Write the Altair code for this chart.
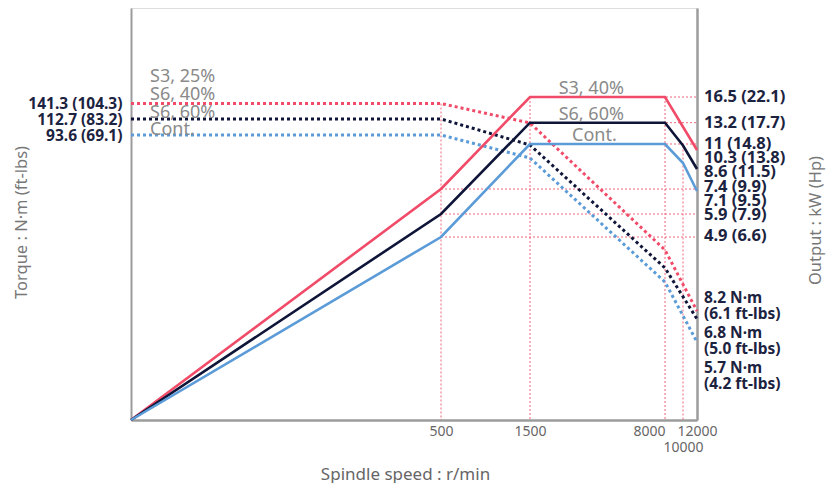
import altair as alt
import pandas as pd

# ---------------- data ----------------
speed_breaks = [0, 500, 1500, 8000, 10000, 12000]      # r/min break points of the schematic x-axis
speed_ticks = [500, 1500, 8000, 10000, 12000]

# Output (kW) - solid lines
s3_rpm = [0, 500, 1500, 8000, 12000]
s3_kw = [0, 7.4, 16.5, 16.5, 10.3]
s6_rpm = [0, 500, 1500, 8000, 10000, 12000]
s6_kw = [0, 5.9, 13.2, 13.2, 10.9, 8.6]
cont_rpm = [0, 500, 1500, 8000, 10000, 12000]
cont_kw = [0, 4.9, 11.0, 11.0, 9.2, 7.1]

# Torque (N·m) - dotted lines
tq_rpm = [0, 500, 1500, 8000, 12000]
s3_nm = [141.3, 141.3, 105.0, 19.7, 8.2]
s6_nm = [112.7, 112.7, 84.0, 15.8, 6.8]
cont_nm = [93.6, 93.6, 70.0, 13.1, 5.7]

# value labels
kw_values = [16.5, 13.2, 11, 10.3, 8.6, 7.4, 7.1, 5.9, 4.9]
kw_texts = ["16.5 (22.1)", "13.2 (17.7)", "11 (14.8)", "10.3 (13.8)", "8.6 (11.5)",
            "7.4 (9.9)", "7.1 (9.5)", "5.9 (7.9)", "4.9 (6.6)"]
nm_values = [141.3, 112.7, 93.6]
nm_texts = ["141.3 (104.3)", "112.7 (83.2)", "93.6 (69.1)"]
nm_end_values = [8.2, 6.8, 5.7]
nm_end_texts = ["8.2 N·m\n(6.1 ft-lbs)", "6.8 N·m\n(5.0 ft-lbs)", "5.7 N·m\n(4.2 ft-lbs)"]

# reference grid lines
grid_v_rpm = [1500, 8000, 10000]
grid_v_kw = [16.5, 16.5, 10.9]
grid_h_kw = [16.5, 13.2, 11, 7.4, 5.9, 4.9]
grid_h_from = [1500, 1500, 1500, 500, 500, 500]

# series annotations
ann_right_texts = ["S3, 40%", "S6, 60%", "Cont."]
ann_right_kw = [16.5, 13.2, 11]
ann_right_rpm = [4450, 4450, 4600]
ann_left_texts = ["S3, 25%", "S6, 40%", "S6, 60%", "Cont."]
ann_left_nm = [141.3, 141.3, 112.7, 93.6]

# ---------------- schematic scales ----------------
W, H = 566, 412
x_px = [0, 310, 399, 534, 552, 566]
kw_dom = [0, 4.9, 5.9, 7.1, 7.4, 8.6, 9.2, 10.3, 10.9, 11, 13.2, 16.5, 20]
kw_px = [412, 229, 206, 183, 181, 161, 155, 142, 137.5, 136, 114.7, 89, 0]
nm_dom = [0, 5.7, 6.8, 8.2, 13.1, 15.8, 19.7, 70, 84, 93.6, 105, 112.7, 141.3, 200]
nm_px = [412, 334, 311, 303, 274, 260, 242, 150, 137, 127, 115, 111, 95.5, 0]

RED, NAVY, BLUE = "#f04b68", "#0e1538", "#5b9bd8"
LABEL = "#1c2340"
GREY_AX = "#9c9c9c"
ANN = "#8a8a8a"
FONT = "Noto Sans"

XS = alt.Scale(domain=speed_breaks, range=x_px, nice=False, zero=False)
KS = alt.Scale(domain=kw_dom, range=kw_px, nice=False, zero=False)
NS = alt.Scale(domain=nm_dom, range=nm_px, nice=False, zero=False)

XAX = alt.Axis(values=speed_ticks, format="d",
               labelExpr="datum.value == 10000 ? ['', datum.label] : datum.label",
               labelAlign={"condition": {"test": "datum.value == 8000", "value": "right"}, "value": "center"},
               labelFlush=False, labelOverlap=False, ticks=False, grid=False,
               domainColor=GREY_AX, domainWidth=2.5, labelColor="#666", labelFontSize=14,
               labelPadding=4, labelLineHeight=16, labelFont=FONT,
               title="Spindle speed : r/min", titleColor="#666", titleFontSize=17,
               titleFontWeight="normal", titleFont=FONT, titleX=274, titleY=54,
               titleBaseline="middle", titleAlign="center")


def xenc(field="rpm"):
    return alt.X(f"{field}:Q", scale=XS, axis=XAX)


left_expr = " : ".join(f"datum.value == {v} ? '{t}'" for v, t in zip(nm_values, nm_texts)) + " : ''"
LAX = alt.Axis(orient="left", values=nm_values, labelExpr=left_expr, ticks=False, grid=False,
               labelOverlap=False, labelFontWeight="bold", labelFontSize=15.5, labelColor=LABEL,
               labelFont=FONT, labelPadding=9, domainColor=GREY_AX, domainWidth=2,
               title="Torque : N·m (ft-lbs)", titleColor="#777", titleFontSize=16.5,
               titleFontWeight="normal", titleFont=FONT, titleX=-110, titleY=214,
               titleAngle=270, titleBaseline="middle", titleAlign="center")
RAX = alt.Axis(orient="right", labels=False, ticks=False, grid=False, domainColor=GREY_AX,
               domainWidth=2.5, title="Output : kW (Hp)", titleColor="#777", titleFontSize=16.5,
               titleFontWeight="normal", titleFont=FONT, titleX=118, titleY=212,
               titleAngle=270, titleBaseline="middle", titleAlign="center")

color = alt.Color("series:N", scale=alt.Scale(domain=["S3", "S6", "Cont"], range=[RED, NAVY, BLUE]),
                  legend=None)

# ---------------- tables ----------------
kw_df = pd.concat([
    pd.DataFrame({"rpm": s3_rpm, "kw": s3_kw, "series": "S3"}),
    pd.DataFrame({"rpm": s6_rpm, "kw": s6_kw, "series": "S6"}),
    pd.DataFrame({"rpm": cont_rpm, "kw": cont_kw, "series": "Cont"}),
])
nm_df = pd.concat([
    pd.DataFrame({"rpm": tq_rpm, "nm": s3_nm, "series": "S3"}),
    pd.DataFrame({"rpm": tq_rpm, "nm": s6_nm, "series": "S6"}),
    pd.DataFrame({"rpm": tq_rpm, "nm": cont_nm, "series": "Cont"}),
])
gv_df = pd.DataFrame({"rpm": grid_v_rpm, "kw": grid_v_kw, "base": 0})
gh_df = pd.DataFrame({"rpm": grid_h_from, "rpm_end": 12000, "kw": grid_h_kw})
gv_nm_df = pd.DataFrame({"rpm": [500], "nm": [nm_values[0]], "base": 0})

rule_style = dict(color=RED, strokeDash=[2, 2], strokeWidth=1, opacity=0.85)

layers = []
layers.append(alt.Chart(gv_df).mark_rule(**rule_style).encode(
    x=xenc(), y=alt.Y("kw:Q", scale=KS, axis=None), y2="base:Q"))
layers.append(alt.Chart(gh_df).mark_rule(**rule_style).encode(
    x=xenc(), x2="rpm_end:Q", y=alt.Y("kw:Q", scale=KS, axis=None)))
layers.append(alt.Chart(gv_nm_df).mark_rule(**rule_style).encode(
    x=xenc(), y=alt.Y("nm:Q", scale=NS, axis=None), y2="base:Q"))
layers.append(alt.Chart(nm_df).mark_line(strokeWidth=3, strokeDash=[3, 3]).encode(
    x=xenc(), y=alt.Y("nm:Q", scale=NS, axis=LAX), color=color, detail="series:N"))
layers.append(alt.Chart(kw_df).mark_line(strokeWidth=2.6).encode(
    x=xenc(), y=alt.Y("kw:Q", scale=KS, axis=RAX), color=color, detail="series:N"))

# right output labels (small vertical nudges to avoid overlaps, as in the original)
kw_dy = {10.3: 8, 8.6: 3, 7.4: -2, 7.1: 10, 5.9: 1, 4.9: -1}
for v, t in zip(kw_values, kw_texts):
    d = pd.DataFrame({"rpm": [12000], "kw": [v], "txt": [t]})
    layers.append(alt.Chart(d).mark_text(align="left", baseline="middle", dx=7, dy=kw_dy.get(v, 0),
                                         font=FONT, fontSize=16.5, fontWeight="bold", color=LABEL).encode(
        x=xenc(), y=alt.Y("kw:Q", scale=KS, axis=None), text="txt:N"))

# right torque end labels
nm_end_dy = [-13, 14, 26]
for v, t, dy in zip(nm_end_values, nm_end_texts, nm_end_dy):
    d = pd.DataFrame({"rpm": [12000], "nm": [v], "txt": [t]})
    layers.append(alt.Chart(d).mark_text(align="left", baseline="middle", dx=7, dy=dy, lineBreak="\n",
                                         lineHeight=16, font=FONT, fontSize=15.5, fontWeight="bold",
                                         color=LABEL).encode(
        x=xenc(), y=alt.Y("nm:Q", scale=NS, axis=None), text="txt:N"))

# series annotations
for t, v, r in zip(ann_right_texts, ann_right_kw, ann_right_rpm):
    d = pd.DataFrame({"rpm": [r], "kw": [v], "txt": [t]})
    layers.append(alt.Chart(d).mark_text(align="center", baseline="alphabetic", dy=-3,
                                         font=FONT, fontSize=18, color=ANN).encode(
        x=xenc(), y=alt.Y("kw:Q", scale=KS, axis=None), text="txt:N"))

ann_left_dy = [-21.5, -3.5, -1, 0]
for t, v, dy in zip(ann_left_texts, ann_left_nm, ann_left_dy):
    d = pd.DataFrame({"rpm": [0], "nm": [v], "txt": [t]})
    layers.append(alt.Chart(d).mark_text(align="left", baseline="alphabetic", dx=19, dy=dy,
                                         font=FONT, fontSize=18, color=ANN).encode(
        x=xenc(), y=alt.Y("nm:Q", scale=NS, axis=None), text="txt:N"))

chart = alt.layer(*layers).resolve_scale(y="independent").properties(
    width=W, height=H,
    autosize=alt.AutoSizeParams(type="none"),
    padding={"left": 123, "top": 0, "right": 130, "bottom": 63},
).configure_view(fill="#e6e7e9", stroke=None).configure(font=FONT)

chart.save("out.html", embed_options={"renderer": "svg", "actions": False})
